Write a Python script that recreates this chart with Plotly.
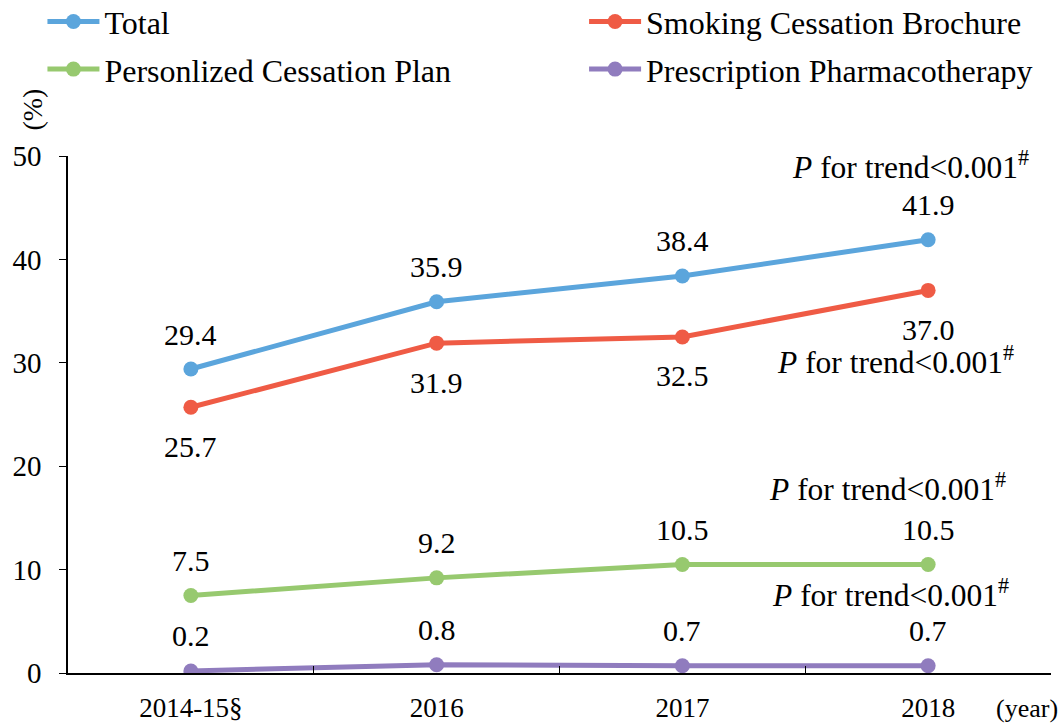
import plotly.graph_objects as go

years = ["2014-15§", "2016", "2017", "2018"]
total = [29.4, 35.9, 38.4, 41.9]
brochure = [25.7, 31.9, 32.5, 37.0]
plan = [7.5, 9.2, 10.5, 10.5]
pharma = [0.2, 0.8, 0.7, 0.7]

series_names = ["Total", "Smoking Cessation Brochure", "Personlized Cessation Plan", "Prescription Pharmacotherapy"]
y_ticks = [0, 10, 20, 30, 40, 50]
p_label = "<i>P</i> for trend<0.001<sup>#</sup>"

FONT = "Liberation Serif"

fig = go.Figure()
# name, values, colour, label offset (px, + above / - below), legend, group
styles = [
    (series_names[0], total, "#5BA5DC", 35, "legend", "g1"),
    (series_names[1], brochure, "#EF5B45", -39, "legend2", "g2"),
    (series_names[2], plan, "#97C96F", 35, "legend", "g3"),
    (series_names[3], pharma, "#907CBE", 35, "legend2", "g4"),
]
for name, vals, color, shift, leg, grp in styles:
    fig.add_trace(go.Scatter(
        x=years, y=vals, name=name, mode="lines+markers",
        line={"color": color, "width": 5}, marker={"color": color, "size": 15},
        legend=leg, legendgroup=grp,
    ))
    # category index keeps "2016" etc. from being read as a number
    for i, v in enumerate(vals):
        fig.add_annotation(x=i, y=v, xref="x", yref="y", text=f"{v:.1f}", showarrow=False,
                           yshift=shift, yanchor="middle",
                           font={"size": 30, "color": "#000000", "family": FONT})

# P for trend labels (one per series), placed near the 2018 point
p_pos = [(2.927, 49.1), (2.869, 30.3), (2.833, 18.0), (2.845, 7.7)]
for x, y in p_pos:
    fig.add_annotation(x=x, y=y, xref="x", yref="y", text=p_label, showarrow=False,
                       font={"size": 31.5, "color": "#000000", "family": FONT})

fig.add_annotation(x=0.976, y=-0.068, xref="paper", yref="paper", text="(year)", showarrow=False,
                   xanchor="center", yanchor="middle",
                   font={"size": 26, "color": "#000000", "family": FONT})
fig.add_annotation(x=-0.036, y=1.089, xref="paper", yref="paper", text="(%)", showarrow=False,
                   xanchor="center", yanchor="middle", textangle=-90,
                   font={"size": 28, "color": "#000000", "family": FONT})

legend_style = {"orientation": "v", "font": {"size": 32, "color": "#000000", "family": FONT},
                "bgcolor": "rgba(0,0,0,0)", "tracegroupgap": 3, "itemwidth": 52,
                "yanchor": "top", "y": 1.313}
fig.update_layout(
    width=1062, height=725,
    margin={"l": 68, "r": 11, "t": 156, "b": 52, "autoexpand": False},
    plot_bgcolor="#ffffff", paper_bgcolor="#ffffff",
    font={"family": FONT, "color": "#000000"},
    legend={**legend_style, "x": -0.026},
    legend2={**legend_style, "x": 0.525},
)
fig.update_xaxes(type="category", range=[-0.5, 3.5], tickson="boundaries", ticks="inside", ticklen=7,
                 tickcolor="#000000", showline=True, linecolor="#000000", linewidth=1.5,
                 showgrid=False, ticklabelstandoff=10,
                 tickfont={"size": 27, "family": FONT, "color": "#000000"})
fig.update_yaxes(range=[0, 50], tickvals=y_ticks, ticks="outside", ticklen=7, tickcolor="#000000",
                 showline=True, linecolor="#000000", linewidth=1.5, showgrid=False, zeroline=False,
                 ticklabelstandoff=12,
                 tickfont={"size": 29, "family": FONT, "color": "#000000"})

fig.write_html("out.html", config={"displayModeBar": False},
               post_script="document.body.style.margin='0';")
